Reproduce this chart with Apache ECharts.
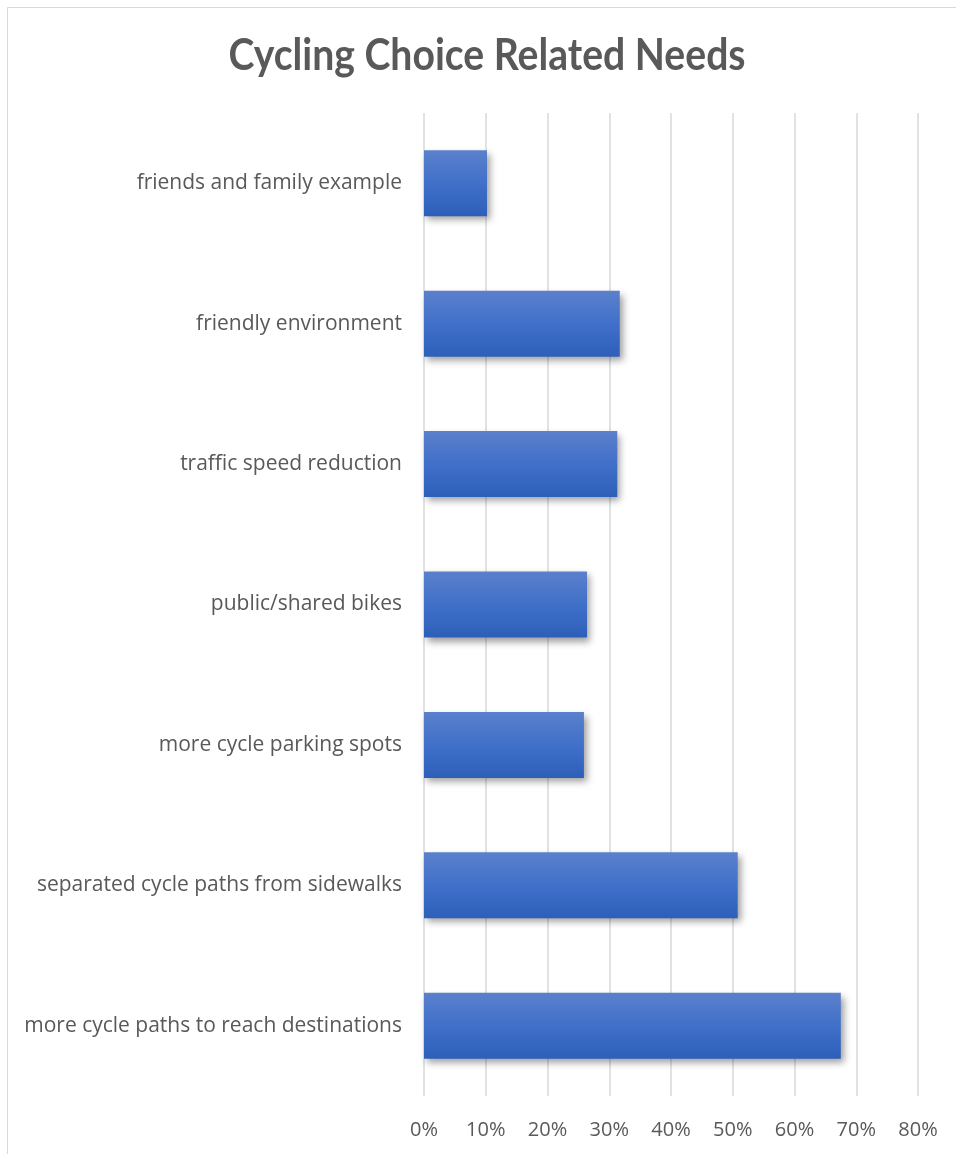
<!DOCTYPE html>
<html>
<head>
<meta charset="utf-8">
<style>
  html, body { margin: 0; padding: 0; background: #fff; }
  #chart { width: 956px; height: 1154px; }
</style>
<script src="https://cdn.jsdelivr.net/npm/echarts@6/dist/echarts.min.js"></script>
</head>
<body>
<div id="chart"></div>
<script>
// Categories listed bottom-to-top (category axis starts at the bottom)
const categories = [
  'more cycle paths to reach destinations',
  'separated cycle paths from sidewalks',
  'more cycle parking spots',
  'public/shared bikes',
  'traffic speed reduction',
  'friendly environment',
  'friends and family example'
];
// Share of respondents (%)
const shares = [67.5, 50.8, 25.9, 26.4, 31.3, 31.7, 10.2];
const tickLabels = ['0%', '10%', '20%', '30%', '40%', '50%', '60%', '70%', '80%'];
const chartTitle = 'Cycling Choice Related Needs';

const chart = echarts.init(document.getElementById('chart'));
const labelFont = '"Open Sans", Lato, sans-serif';

chart.setOption({
  animation: false,
  backgroundColor: '#ffffff',
  graphic: [
    {
      type: 'rect',
      shape: { x: 7.5, y: 7.5, width: 960, height: 1160 },
      style: { fill: 'none', stroke: '#d9d9d9', lineWidth: 1 },
      silent: true
    },
    {
      // slightly condensed bold title
      type: 'text',
      x: 487, y: 78,
      scaleX: 0.91,
      style: {
        text: chartTitle,
        fill: '#595959',
        font: 'bold 43px Lato, "Open Sans", sans-serif',
        textAlign: 'center',
        textVerticalAlign: 'bottom',
        textBaseline: 'alphabetic'
      },
      silent: true
    }
  ],
  grid: { left: 424, right: 38, top: 113, bottom: 58, containLabel: false },
  xAxis: {
    type: 'value', min: 0, max: 80, interval: 10,
    axisLine: { show: false }, axisTick: { show: false },
    splitLine: { show: true, lineStyle: { color: '#d9d9d9', width: 1.5 } },
    axisLabel: {
      margin: 24, color: '#595959', fontFamily: labelFont, fontSize: 20,
      formatter: (v) => tickLabels[Math.round(v / 10)]
    }
  },
  yAxis: {
    type: 'category', data: categories,
    axisLine: { show: false }, axisTick: { show: false },
    axisLabel: { margin: 22, color: '#595959', fontFamily: labelFont, fontSize: 21 }
  },
  series: [{
    type: 'bar',
    data: shares,
    barCategoryGap: '53%',
    itemStyle: {
      color: new echarts.graphic.LinearGradient(0, 0, 0, 1, [
        { offset: 0, color: '#5b80cc' },
        { offset: 0.5, color: '#4070c9' },
        { offset: 1, color: '#2d5fb9' }
      ]),
      shadowColor: 'rgba(0,0,0,0.38)',
      shadowBlur: 7,
      shadowOffsetX: 3,
      shadowOffsetY: 4
    }
  }]
});
</script>
</body>
</html>
